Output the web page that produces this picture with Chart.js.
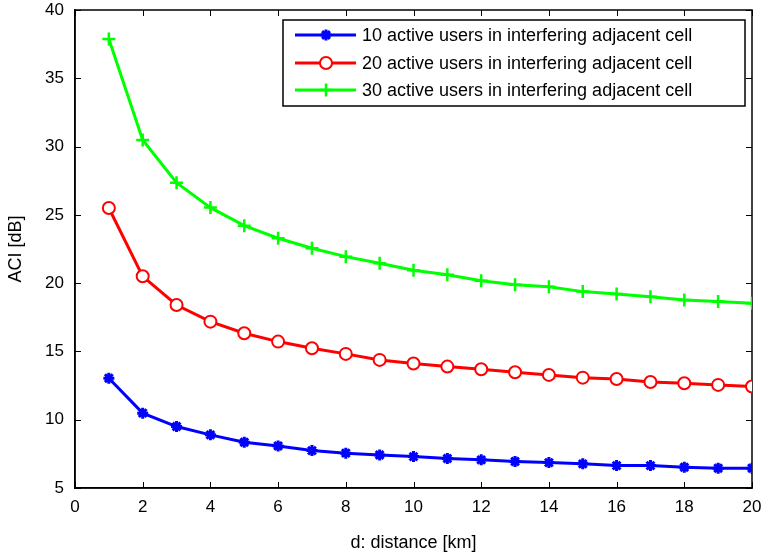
<!DOCTYPE html>
<html><head><meta charset="utf-8">
<script src="https://cdn.jsdelivr.net/npm/chart.js@4/dist/chart.umd.min.js"></script>
<style>html,body{margin:0;padding:0;background:#fff}#wrap{width:761px;height:554px}</style>
</head><body><div id="wrap"><canvas id="c" width="761" height="554"></canvas></div>
<script>
const distances = [1,2,3,4,5,6,7,8,9,10,11,12,13,14,15,16,17,18,19,20];
const seriesNames = ["10 active users in interfering adjacent cell","20 active users in interfering adjacent cell","30 active users in interfering adjacent cell"];
const users10 = [13.04,10.48,9.50,8.89,8.35,8.08,7.74,7.55,7.42,7.30,7.16,7.06,6.94,6.86,6.77,6.64,6.64,6.52,6.45,6.45];
const users20 = [25.5,20.5,18.4,17.18,16.33,15.72,15.23,14.82,14.38,14.12,13.89,13.70,13.48,13.28,13.08,12.98,12.76,12.67,12.55,12.43];
const users30 = [37.88,30.48,27.36,25.53,24.21,23.29,22.56,21.94,21.46,20.95,20.62,20.18,19.89,19.74,19.38,19.2,19.0,18.77,18.65,18.53];
const xTicks = [0,2,4,6,8,10,12,14,16,18,20];
const yTicks = [5,10,15,20,25,30,35,40];

const FONT = "'Liberation Sans', Arial, sans-serif";
const styles = [
  {color:'#0000ff', pointStyle:'star', radius:5.5, pw:3},
  {color:'#ff0000', pointStyle:'circle', radius:6, pw:2},
  {color:'#00ff00', pointStyle:'cross', radius:6.5, pw:2.5}
];
const values = [users10, users20, users30];
const datasets = values.map((v,i)=>({
  label: seriesNames[i],
  data: distances.map((d,j)=>({x:d,y:v[j]})),
  borderColor: styles[i].color,
  backgroundColor: i===1 ? '#ffffff' : styles[i].color,
  borderWidth: 3,
  pointStyle: styles[i].pointStyle,
  pointRadius: styles[i].radius,
  pointBorderWidth: styles[i].pw,
  pointBorderColor: styles[i].color,
  pointBackgroundColor: i===1 ? '#ffffff' : styles[i].color,
  showLine: true,
  tension: 0
}));

const boxTicks = {
  id:'boxTicks',
  beforeDatasetsDraw(chart){
    const {ctx, chartArea:a, scales:{x,y}} = chart;
    ctx.save();
    ctx.strokeStyle='#000'; ctx.lineWidth=1;
    const L=6;
    xTicks.forEach(t=>{
      const px=Math.round(x.getPixelForValue(t))+0.5;
      ctx.beginPath();
      ctx.moveTo(px,a.bottom); ctx.lineTo(px,a.bottom-L);
      ctx.moveTo(px,a.top); ctx.lineTo(px,a.top+L);
      ctx.stroke();
    });
    yTicks.forEach(t=>{
      const py=Math.round(y.getPixelForValue(t))+0.5;
      ctx.beginPath();
      ctx.moveTo(a.left,py); ctx.lineTo(a.left+L,py);
      ctx.moveTo(a.right,py); ctx.lineTo(a.right-L,py);
      ctx.stroke();
    });
    ctx.lineWidth=1.5;
    ctx.strokeRect(a.left, a.top, a.right-a.left, a.bottom-a.top);
    ctx.restore();
  }
};

const boxLegend = {
  id:'boxLegend',
  afterDraw(chart){
    const ctx=chart.ctx;
    ctx.save();
    const bx=283, by=20, bw=462, bh=86;
    ctx.fillStyle='#fff'; ctx.fillRect(bx,by,bw,bh);
    ctx.strokeStyle='#000'; ctx.lineWidth=1.5; ctx.strokeRect(bx,by,bw,bh);
    const rows=[35,63,90];
    ctx.font='18px '+FONT; ctx.textBaseline='middle'; ctx.textAlign='left';
    seriesNames.forEach((n,i)=>{
      const yy=rows[i];
      ctx.strokeStyle=styles[i].color; ctx.lineWidth=3;
      ctx.beginPath(); ctx.moveTo(295,yy); ctx.lineTo(356,yy); ctx.stroke();
      ctx.fillStyle= i===1 ? '#fff' : styles[i].color;
      ctx.strokeStyle=styles[i].color; ctx.lineWidth=styles[i].pw;
      Chart.helpers.drawPoint(ctx,{pointStyle:styles[i].pointStyle,radius:styles[i].radius,rotation:0,borderWidth:styles[i].pw},326,yy);
      ctx.fillStyle='#000';
      ctx.fillText(n,362,yy+1);
    });
    ctx.restore();
  }
};

new Chart(document.getElementById('c'),{
  type:'scatter',
  data:{datasets},
  options:{
    responsive:false, animation:false, devicePixelRatio:1,
    layout:{padding:{left:0,right:0,top:10,bottom:0}},
    plugins:{legend:{display:false}, tooltip:{enabled:false}},
    scales:{
      x:{type:'linear', min:0, max:20,
        afterBuildTicks(s){ s.ticks = xTicks.map(v=>({value:v})); },
        afterFit(s){ s.height=66; s.paddingRight=9; s.paddingLeft=0; },
        grid:{display:true, drawOnChartArea:false, drawTicks:false},
        border:{display:true,color:'#000',width:1.5},
        ticks:{color:'#000', padding:9, font:{family:FONT,size:17}, maxRotation:0, autoSkip:false},
        title:{display:true, text:'d: distance [km]', color:'#000', font:{family:FONT,size:18}, padding:{top:6,bottom:0}}
      },
      y:{type:'linear', min:5, max:40,
        afterBuildTicks(s){ s.ticks = yTicks.map(v=>({value:v})); },
        afterFit(s){ s.width=75; s.paddingTop=0; s.paddingBottom=0; },
        grid:{display:true, drawOnChartArea:false, drawTicks:false},
        border:{display:true,color:'#000',width:1.5},
        ticks:{color:'#000', padding:11, font:{family:FONT,size:17}, autoSkip:false},
        title:{display:true, text:'ACI [dB]', color:'#000', font:{family:FONT,size:18}, padding:{top:5,bottom:14}}
      }
    }
  },
  plugins:[boxTicks, boxLegend]
});
</script></body></html>
